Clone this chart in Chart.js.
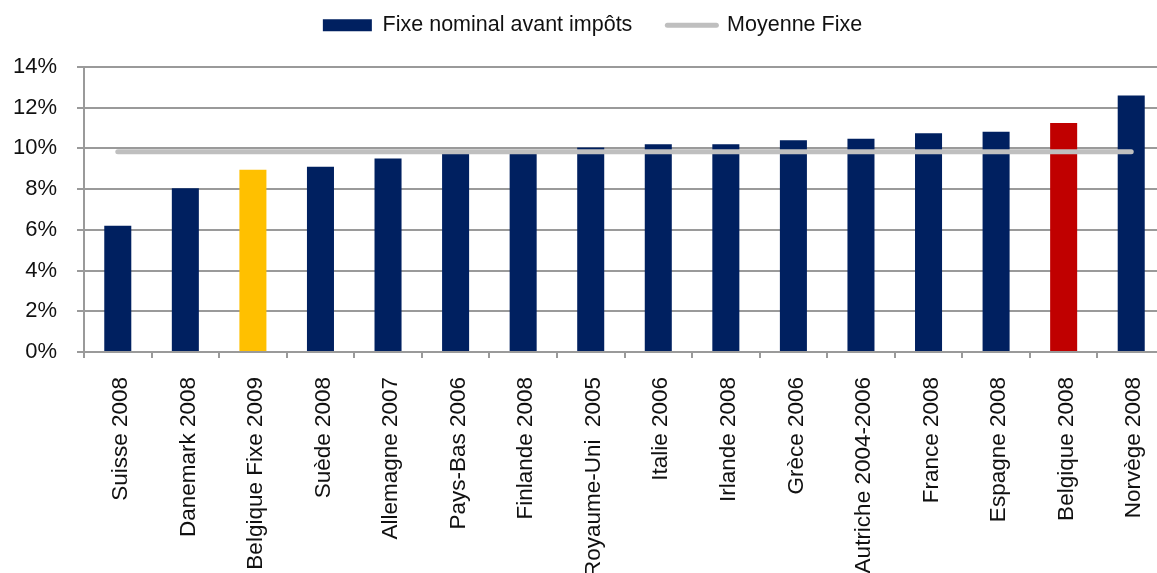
<!DOCTYPE html>
<html lang="fr">
<head>
    <meta charset="UTF-8">
    <title>Fixe nominal avant impôts</title>
    <style>
        body {
            margin: 0;
            overflow: hidden;
            background: #ffffff;
            font-family: "Liberation Sans", Arial, sans-serif;
        }
        /* la zone de tracé déborde légèrement à droite de la fenêtre */
        #wrap {
            position: relative;
            width: 1165px;
            height: 573px;
        }
    </style>
</head>
<body>
    <div id="wrap"><canvas id="graph"></canvas></div>

    <script src="https://cdn.jsdelivr.net/npm/chart.js"></script>
    <script>
        // Pays (et année) comparés
        const categories = [
            'Suisse 2008', 'Danemark 2008', 'Belgique Fixe 2009', 'Suède 2008',
            'Allemagne 2007', 'Pays-Bas 2006', 'Finlande 2008', 'Royaume-Uni  2005',
            'Italie 2006', 'Irlande 2008', 'Grèce 2006', 'Autriche 2004-2006',
            'France 2008', 'Espagne 2008', 'Belgique 2008', 'Norvège 2008'
        ];

        // Fixe nominal avant impôts (%)
        const fixeNominal = [6.2, 8.05, 8.95, 9.1, 9.5, 9.75, 9.75, 10.05,
                             10.2, 10.2, 10.4, 10.48, 10.75, 10.82, 11.25, 12.6];

        // Moyenne Fixe (%)
        const moyenneFixe = [9.84, 9.84, 9.84, 9.84, 9.84, 9.84, 9.84, 9.84,
                             9.84, 9.84, 9.84, 9.84, 9.84, 9.84, 9.84, 9.84];

        const yTicks = [0, 2, 4, 6, 8, 10, 12, 14];
        const legendLabels = ['Fixe nominal avant impôts', 'Moyenne Fixe'];

        const NAVY = '#002060';
        const GREY_LINE = '#bfbfbf';
        const GRID = '#9a9a9a';
        const FONT = '"Liberation Sans", Arial, sans-serif';

        // Belgique mise en évidence
        const barColors = categories.map(c =>
            c === 'Belgique Fixe 2009' ? '#ffc000' :
            c === 'Belgique 2008' ? '#c00000' : NAVY);

        // décale la légende (plus haut, un peu à droite) une fois la mise en page faite
        const legendShift = {
            id: 'legendShift',
            afterLayout(chart) {
                const lg = chart.legend;
                if (!lg) return;
                lg.top -= 21;
                lg.bottom -= 21;
                lg.left += 10;
                lg.right += 10;
            }
        };

        const ctx = document.getElementById('graph').getContext('2d');
        new Chart(ctx, {
            data: {
                labels: categories,
                datasets: [{
                    type: 'bar',
                    label: legendLabels[0],
                    data: fixeNominal,
                    backgroundColor: barColors,
                    borderWidth: 0,
                    categoryPercentage: 1,
                    barPercentage: 0.4,
                    order: 1
                }, {
                    type: 'line',
                    label: legendLabels[1],
                    data: moyenneFixe,
                    borderColor: GREY_LINE,
                    backgroundColor: GREY_LINE,
                    borderWidth: 5,
                    borderCapStyle: 'round',
                    pointRadius: 0,
                    fill: false,
                    order: 0
                }]
            },
            plugins: [legendShift],
            options: {
                responsive: true,
                maintainAspectRatio: false,
                animation: false,
                layout: { padding: 0 },
                plugins: {
                    tooltip: { enabled: false },
                    legend: {
                        position: 'top',
                        labels: {
                            font: { family: FONT, size: 21.5 },
                            color: '#111',
                            usePointStyle: true,
                            pointStyleWidth: 49,
                            boxHeight: 12,
                            padding: 35,
                            sort: (a, b) => a.datasetIndex - b.datasetIndex,
                            generateLabels: function(chart) {
                                const items = Chart.defaults.plugins.legend.labels.generateLabels(chart);
                                items.forEach(item => {
                                    if (item.datasetIndex === 0) {
                                        item.pointStyle = 'rect';
                                        item.fillStyle = NAVY;
                                        item.strokeStyle = NAVY;
                                        item.lineWidth = 0;
                                    } else {
                                        item.pointStyle = 'line';
                                        item.strokeStyle = GREY_LINE;
                                        item.lineWidth = 5;
                                        item.lineCap = 'round';
                                    }
                                });
                                return items;
                            }
                        }
                    }
                },
                scales: {
                    x: {
                        offset: true,
                        grid: {
                            offset: true,
                            drawOnChartArea: false,
                            color: GRID,
                            lineWidth: 2,
                            tickLength: 6
                        },
                        border: { color: GRID, width: 2 },
                        ticks: {
                            autoSkip: false,
                            minRotation: 90,
                            maxRotation: 90,
                            padding: 19,
                            labelOffset: 3,
                            color: '#111',
                            font: { family: FONT, size: 22.5 }
                        },
                        afterFit: function(scale) {
                            scale.height = 221;
                            scale.paddingLeft = 0;
                            scale.paddingRight = 0;
                        }
                    },
                    y: {
                        min: 0,
                        max: 14,
                        afterBuildTicks: function(scale) {
                            scale.ticks = yTicks.map(v => ({ value: v }));
                        },
                        grid: {
                            color: GRID,
                            lineWidth: 2,
                            tickLength: 7
                        },
                        border: { color: GRID, width: 2 },
                        ticks: {
                            padding: 20,
                            color: '#111',
                            font: { family: FONT, size: 22 },
                            callback: v => v + '%'
                        },
                        afterFit: function(scale) {
                            scale.width = 84;
                            scale.paddingTop = 67;
                            scale.paddingBottom = 0;
                        }
                    }
                }
            }
        });
    </script>
</body>
</html>
